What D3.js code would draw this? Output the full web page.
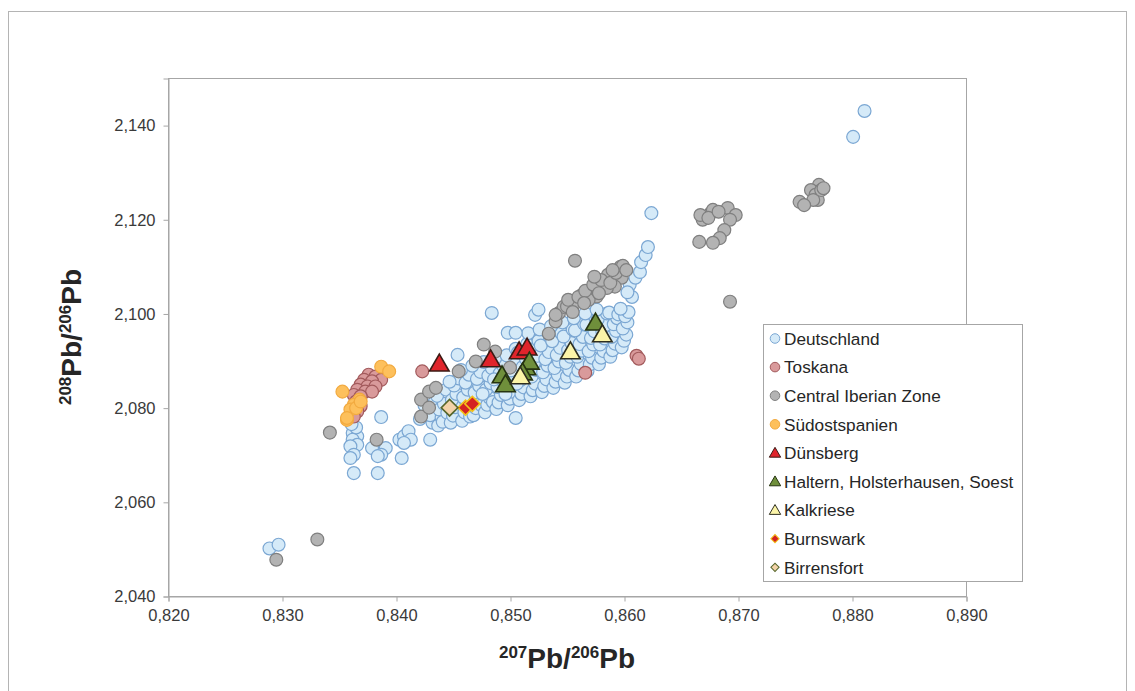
<!DOCTYPE html>
<html>
<head>
<meta charset="utf-8">
<script src="https://cdn.jsdelivr.net/npm/d3@7"></script>
<style>
  body { margin: 0; background: #fff; }
  text { font-family: "Liberation Sans", Arial, sans-serif; }
</style>
</head>
<body>
<div id="chart"></div>
<script>
// tick values
const xTicks = [0.82, 0.83, 0.84, 0.85, 0.86, 0.87, 0.88, 0.89];
const yTicks = [2.04, 2.06, 2.08, 2.10, 2.12, 2.14];

// series as [207Pb/206Pb, 208Pb/206Pb]
const deutschland = [
  [0.8289,2.0501],[0.8297,2.0509],[0.8801,2.1375],[0.8811,2.1430],
  [0.8387,2.0780],[0.8362,2.0746],[0.8366,2.0739],[0.8362,2.0732],[0.8366,2.0721],[0.8360,2.0718],
  [0.8363,2.0700],[0.8360,2.0693],[0.8379,2.0714],[0.8391,2.0714],[0.8387,2.0700],[0.8384,2.0697],
  [0.8403,2.0732],[0.8407,2.0739],[0.8411,2.0750],[0.8413,2.0732],[0.8407,2.0725],[0.8405,2.0693],
  [0.8430,2.0732],[0.8363,2.0661],[0.8384,2.0661],[0.8365,2.0758],[0.8361,2.0765],
  [0.8421,2.0776],[0.8427,2.0791],[0.8425,2.0805],[0.8432,2.0768],[0.8430,2.0784],[0.8434,2.0812],
  [0.8437,2.0762],[0.8440,2.0779],[0.8438,2.0796],[0.8442,2.0808],[0.8436,2.0825],[0.8444,2.0838],[0.8441,2.0770],[0.8445,2.0789],
  [0.8448,2.0768],[0.8450,2.0783],[0.8452,2.0801],[0.8449,2.0816],[0.8453,2.0829],[0.8451,2.0847],[0.8455,2.0862],[0.8447,2.0855],
  [0.8458,2.0772],[0.8460,2.0790],[0.8462,2.0807],[0.8459,2.0822],[0.8463,2.0838],[0.8461,2.0853],[0.8464,2.0870],[0.8457,2.0880],[0.8465,2.0781],
  [0.8468,2.0784],[0.8470,2.0799],[0.8472,2.0815],[0.8469,2.0832],[0.8473,2.0846],[0.8471,2.0861],[0.8474,2.0876],[0.8467,2.0889],[0.8475,2.0805],
  [0.8478,2.0790],[0.8480,2.0806],[0.8482,2.0821],[0.8479,2.0838],[0.8483,2.0852],[0.8481,2.0868],[0.8484,2.0884],[0.8477,2.0897],[0.8485,2.0812],[0.8476,2.0829],
  [0.8488,2.0797],[0.8490,2.0811],[0.8492,2.0827],[0.8489,2.0844],[0.8493,2.0858],[0.8491,2.0873],[0.8494,2.0889],[0.8487,2.0905],[0.8495,2.0840],[0.8486,2.0860],
  [0.8498,2.0805],[0.8500,2.0819],[0.8502,2.0834],[0.8499,2.0850],[0.8503,2.0864],[0.8501,2.0879],[0.8504,2.0895],[0.8497,2.0911],[0.8505,2.0925],[0.8496,2.0829],
  [0.8508,2.0816],[0.8510,2.0829],[0.8512,2.0843],[0.8509,2.0858],[0.8513,2.0871],[0.8511,2.0886],[0.8514,2.0903],[0.8507,2.0917],[0.8515,2.0935],[0.8506,2.0851],
  [0.8518,2.0824],[0.8520,2.0837],[0.8522,2.0851],[0.8519,2.0866],[0.8523,2.0880],[0.8521,2.0894],[0.8524,2.0910],[0.8517,2.0924],[0.8525,2.0942],[0.8516,2.0958],
  [0.8528,2.0833],[0.8530,2.0846],[0.8532,2.0860],[0.8529,2.0875],[0.8533,2.0889],[0.8531,2.0903],[0.8534,2.0918],[0.8527,2.0932],[0.8535,2.0950],[0.8526,2.0966],
  [0.8538,2.0842],[0.8540,2.0855],[0.8542,2.0869],[0.8539,2.0884],[0.8543,2.0898],[0.8541,2.0912],[0.8544,2.0927],[0.8537,2.0941],[0.8545,2.0958],[0.8536,2.0973],
  [0.8548,2.0853],[0.8550,2.0866],[0.8552,2.0880],[0.8549,2.0895],[0.8553,2.0908],[0.8551,2.0922],[0.8554,2.0937],[0.8547,2.0951],[0.8555,2.0966],[0.8546,2.0981],
  [0.8558,2.0866],[0.8560,2.0879],[0.8562,2.0893],[0.8559,2.0908],[0.8563,2.0921],[0.8561,2.0935],[0.8564,2.0950],[0.8557,2.0964],[0.8565,2.0978],[0.8556,2.0990],
  [0.8568,2.0878],[0.8570,2.0892],[0.8572,2.0906],[0.8569,2.0920],[0.8573,2.0934],[0.8571,2.0948],[0.8574,2.0962],[0.8567,2.0976],[0.8575,2.0990],[0.8566,2.1000],
  [0.8578,2.0892],[0.8580,2.0906],[0.8582,2.0920],[0.8579,2.0934],[0.8583,2.0947],[0.8581,2.0961],[0.8584,2.0975],[0.8577,2.0988],[0.8585,2.1000],[0.8576,2.1008],
  [0.8588,2.0908],[0.8590,2.0922],[0.8592,2.0936],[0.8589,2.0950],[0.8593,2.0963],[0.8591,2.0977],[0.8594,2.0990],[0.8587,2.1002],[0.8595,2.0998],
  [0.8598,2.0928],[0.8600,2.0942],[0.8602,2.0955],[0.8599,2.0968],[0.8603,2.0981],[0.8601,2.0994],[0.8604,2.1003],[0.8597,2.1010],
  [0.8605,2.1061],[0.8610,2.1076],[0.8614,2.1088],[0.8615,2.1109],[0.8619,2.1124],[0.8621,2.1141],[0.8624,2.1213],[0.8607,2.1035],[0.8603,2.1045],
  [0.8454,2.0912],[0.8484,2.1001],[0.8522,2.0997],[0.8525,2.1008],[0.8498,2.0959],[0.8505,2.0959],[0.8505,2.0778]
];
const toskana = [
  [0.8376,2.0870],[0.8382,2.0866],[0.8387,2.0859],[0.8372,2.0859],[0.8379,2.0856],[0.8369,2.0849],
  [0.8375,2.0845],[0.8382,2.0845],[0.8366,2.0838],[0.8373,2.0834],[0.8379,2.0834],[0.8363,2.0827],
  [0.8369,2.0824],[0.8365,2.0813],[0.8369,2.0803],[0.8366,2.0792],[0.8363,2.0781],
  [0.8423,2.0877],[0.8611,2.0910],[0.8613,2.0904],[0.8566,2.0874]
];
const ciz = [
  [0.8295,2.0477],[0.8331,2.0520],[0.8342,2.0747],[0.8383,2.0732],
  [0.8422,2.0817],[0.8422,2.0781],[0.8429,2.0834],[0.8429,2.0800],[0.8435,2.0842],
  [0.8455,2.0877],[0.8470,2.0898],[0.8477,2.0934],[0.8487,2.0919],[0.8500,2.0885],
  [0.8534,2.0957],[0.8540,2.0983],[0.8543,2.1001],[0.8547,2.1014],[0.8540,2.0997],
  [0.8550,2.1015],[0.8557,2.1022],[0.8563,2.1039],[0.8571,2.1050],[0.8578,2.1057],
  [0.8583,2.1071],[0.8586,2.1082],[0.8597,2.1099],[0.8598,2.1076],[0.8592,2.1057],
  [0.8585,2.1054],[0.8576,2.1036],[0.8569,2.1029],[0.8557,2.1112],
  [0.8551,2.1029],[0.8560,2.1035],[0.8566,2.1048],[0.8573,2.1061],[0.8580,2.1071],
  [0.8588,2.1065],[0.8593,2.1086],[0.8599,2.1101],[0.8602,2.1092],[0.8590,2.1092],
  [0.8578,2.1043],[0.8565,2.1022],[0.8555,2.1003],[0.8574,2.1078],
  [0.8666,2.1152],[0.8669,2.1199],[0.8676,2.1213],[0.8667,2.1209],[0.8678,2.1220],
  [0.8691,2.1224],[0.8698,2.1209],[0.8693,2.1199],[0.8688,2.1177],[0.8684,2.1160],
  [0.8678,2.1150],[0.8674,2.1203],[0.8683,2.1216],[0.8693,2.1025],
  [0.8771,2.1273],[0.8764,2.1262],[0.8768,2.1252],[0.8770,2.1241],[0.8766,2.1241],
  [0.8754,2.1237],[0.8758,2.1230],[0.8773,2.1262],[0.8775,2.1266]
];
const suedostspanien = [
  [0.8387,2.0887],[0.8394,2.0877],[0.8353,2.0834],[0.8368,2.0817],[0.8363,2.0806],
  [0.8360,2.0796],[0.8365,2.0799],[0.8357,2.0774],[0.8369,2.0813],[0.8357,2.0778]
];
const duensberg = [[0.8438,2.0893],[0.8483,2.0902],[0.8508,2.0919],[0.8515,2.0927]];
const haltern = [[0.8493,2.0868],[0.8496,2.0849],[0.8514,2.0885],[0.8517,2.0897],[0.8511,2.0874],[0.8575,2.0980]];
const kalkriese = [[0.8553,2.0919],[0.8509,2.0866],[0.8581,2.0955]];
const burnswark = [[0.8461,2.0800],[0.8467,2.0808]];
const birrensfort = [[0.8447,2.0800]];

const series = [
  { name: "Deutschland", data: deutschland, shape: "circle", fill: "#d5eaf8", stroke: "#7ba7d3", size: 130, lsize: 72 },
  { name: "Toskana", data: toskana, shape: "circle", fill: "#d99a9b", stroke: "#a25a5c", size: 130, lsize: 72 },
  { name: "Central Iberian Zone", data: ciz, shape: "circle", fill: "#b3b3b3", stroke: "#7f7f7f", size: 130, lsize: 72 },
  { name: "Südostspanien", data: suedostspanien, shape: "circle", fill: "#fdc05c", stroke: "#f2aa40", size: 130, lsize: 72 },
  { name: "Dünsberg", data: duensberg, shape: "triangle", fill: "#e0242b", stroke: "#3b1a14", size: 165, lsize: 56 },
  { name: "Haltern, Holsterhausen, Soest", data: haltern, shape: "triangle", fill: "#6f8f3b", stroke: "#263410", size: 165, lsize: 56 },
  { name: "Kalkriese", data: kalkriese, shape: "triangle", fill: "#fbf4a8", stroke: "#2e2e20", size: 165, lsize: 56 },
  { name: "Burnswark", data: burnswark, shape: "diamond", fill: "#d42222", stroke: "#f3c21a", size: 115, lsize: 34 },
  { name: "Birrensfort", data: birrensfort, shape: "diamond", fill: "#f3d2a8", stroke: "#56662a", size: 140, lsize: 34 }
];

const W = 1135, H = 691;
const margin = { left: 168, top: 78, right: 966, bottom: 596 };

const svg = d3.select("#chart").append("svg")
  .attr("width", W).attr("height", H);

// outer frame
svg.append("rect")
  .attr("x", 8.5).attr("y", 11.5).attr("width", 1118).attr("height", 700)
  .attr("fill", "none").attr("stroke", "#b4b4b4");

const x = d3.scaleLinear().domain([0.82, 0.89]).range([margin.left, margin.right]);
const y = d3.scaleLinear().domain([2.04, 2.15]).range([margin.bottom, margin.top]);

const fmt = (d, n) => d3.format(`.${n}f`)(d).replace(".", ",");

// plot border
svg.append("rect")
  .attr("x", margin.left + 0.5).attr("y", margin.top + 0.5)
  .attr("width", margin.right - margin.left).attr("height", margin.bottom - margin.top)
  .attr("fill", "none").attr("stroke", "#a6a6a6");

const xAxis = svg.append("g")
  .attr("transform", `translate(0.5,${margin.bottom + 0.5})`)
  .call(d3.axisBottom(x).tickValues(xTicks).tickSize(5).tickPadding(8).tickFormat(d => fmt(d, 3)));
const yAxis = svg.append("g")
  .attr("transform", `translate(${margin.left + 0.5},0.5)`)
  .call(d3.axisLeft(y).tickValues(yTicks).tickSize(5).tickPadding(8).tickFormat(d => fmt(d, 3)));

[xAxis, yAxis].forEach(g => {
  g.select(".domain").attr("stroke", "#a6a6a6");
  g.selectAll(".tick line").attr("stroke", "#a6a6a6");
  g.selectAll(".tick text")
    .attr("fill", "#3a3a3a")
    .style("font-size", "16.5px")
    .style("font-family", "'Liberation Sans', Arial, sans-serif");
});

const symbolPath = (shape, size) => {
  if (shape === "circle") return d3.symbol(d3.symbolCircle, size)();
  if (shape === "triangle") return d3.symbol(d3.symbolTriangle, size)();
  return d3.symbol(d3.symbolSquare, size)();
};

// markers
series.forEach(s => {
  svg.append("g")
    .selectAll("path")
    .data(s.data)
    .join("path")
    .attr("d", symbolPath(s.shape, s.size))
    .attr("transform", d => `translate(${x(d[0])},${y(d[1])})` + (s.shape === "diamond" ? " rotate(45)" : "") + (s.shape === "triangle" ? " translate(0,1.5)" : ""))
    .attr("fill", s.fill)
    .attr("stroke", s.stroke)
    .attr("stroke-width", s.shape === "circle" ? 1.2 : 1.6);
});

// legend
const legend = svg.append("g");
legend.append("rect")
  .attr("x", 763.5).attr("y", 324.5).attr("width", 259).attr("height", 257)
  .attr("fill", "#fff").attr("stroke", "#a6a6a6");

const items = legend.selectAll("g.item")
  .data(series)
  .join("g")
  .attr("class", "item")
  .attr("transform", (d, i) => `translate(775,${338.5 + i * 28.6})`);

items.append("path")
  .attr("d", d => symbolPath(d.shape, d.lsize))
  .attr("transform", d => d.shape === "diamond" ? "rotate(45)" : (d.shape === "triangle" ? "translate(0,1)" : ""))
  .attr("fill", d => d.fill)
  .attr("stroke", d => d.stroke)
  .attr("stroke-width", 1);

items.append("text")
  .attr("x", 9).attr("y", 0).attr("dy", "0.36em")
  .attr("fill", "#262626")
  .style("font-size", "17.2px")
  .text(d => d.name);

// axis titles
const xt = svg.append("text")
  .attr("x", (margin.left + margin.right) / 2).attr("y", 668)
  .attr("text-anchor", "middle")
  .attr("font-weight", "bold").attr("fill", "#262626")
  .style("font-size", "28px");
xt.append("tspan").style("font-size", "17px").attr("dy", "-10").text("207");
xt.append("tspan").attr("dy", "10").text("Pb/");
xt.append("tspan").style("font-size", "17px").attr("dy", "-10").text("206");
xt.append("tspan").attr("dy", "10").text("Pb");

const yt = svg.append("text")
  .attr("transform", `translate(81,${(margin.top + margin.bottom) / 2}) rotate(-90)`)
  .attr("text-anchor", "middle")
  .attr("font-weight", "bold").attr("fill", "#262626")
  .style("font-size", "28px");
yt.append("tspan").style("font-size", "17px").attr("dy", "-10").text("208");
yt.append("tspan").attr("dy", "10").text("Pb/");
yt.append("tspan").style("font-size", "17px").attr("dy", "-10").text("206");
yt.append("tspan").attr("dy", "10").text("Pb");
</script>
</body>
</html>
